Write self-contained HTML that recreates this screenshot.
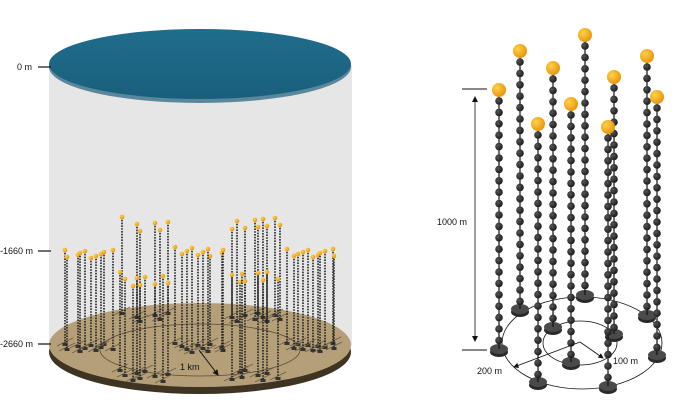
<!DOCTYPE html>
<html><head><meta charset="utf-8"><style>
html,body{margin:0;padding:0;background:#fff;}
svg{display:block;font-family:"Liberation Sans",sans-serif;}
</style></head><body>
<svg id="s" width="700" height="420" viewBox="0 0 700 420" xmlns="http://www.w3.org/2000/svg">
<defs>
<radialGradient id="og" cx="0.35" cy="0.35" r="0.7"><stop offset="0" stop-color="#ffd24a"/><stop offset="1" stop-color="#e8930a"/></radialGradient>
<radialGradient id="bg" cx="0.35" cy="0.35" r="0.7"><stop offset="0" stop-color="#555"/><stop offset="1" stop-color="#1a1a1a"/></radialGradient>
<linearGradient id="wg" x1="0" y1="0" x2="0" y2="1"><stop offset="0" stop-color="#1f6d8c"/><stop offset="1" stop-color="#195f7d"/></linearGradient>
<marker id="ar" markerWidth="6" markerHeight="6" refX="5" refY="3" orient="auto"><path d="M0,0 L6,3 L0,6 z" fill="#111"/></marker>
</defs>
<!-- left cylinder -->
<rect x="49" y="65" width="303" height="280" fill="#e6e6e7"/>
<ellipse cx="200" cy="352" rx="151" ry="42" fill="#3f3322"/>
<ellipse cx="200" cy="345" rx="151" ry="42" fill="#b49f78"/>
<ellipse cx="200" cy="350" rx="100" ry="26" fill="none" stroke="#5a4a32" stroke-width="0.8"/>
<ellipse cx="200" cy="67" rx="151" ry="36" fill="#5b879b"/>
<ellipse cx="200" cy="64" rx="151" ry="35" fill="url(#wg)"/>
<g id="left"></g>
<line x1="199" y1="350" x2="218" y2="375" stroke="#111" stroke-width="1" marker-end="url(#ar)"/>
<text x="180" y="370" font-size="9" fill="#111">1 km</text>
<g font-size="9" fill="#111">
<text x="17" y="70">0 m</text><line x1="38" y1="67" x2="51" y2="67" stroke="#111" stroke-width="1.2"/>
<text x="0" y="254">-1660 m</text><line x1="38" y1="251" x2="51" y2="251" stroke="#111" stroke-width="1.2"/>
<text x="0" y="347">-2660 m</text><line x1="38" y1="344" x2="51" y2="344" stroke="#111" stroke-width="1.2"/>
</g>
<!-- right -->
<ellipse cx="582" cy="343" rx="80" ry="46" fill="none" stroke="#111" stroke-width="0.8"/>
<ellipse cx="580" cy="343" rx="37" ry="22" fill="none" stroke="#111" stroke-width="0.8"/>
<g id="right"></g>
<line x1="580" y1="342" x2="514" y2="367" stroke="#111" stroke-width="0.9" marker-end="url(#ar)"/>
<line x1="580" y1="342" x2="603" y2="358" stroke="#111" stroke-width="0.9" marker-end="url(#ar)"/>
<g font-size="9" fill="#111">
<text x="477" y="374">200 m</text><text x="613" y="364">100 m</text><text x="437" y="225">1000 m</text>
</g>
<line x1="462" y1="89" x2="487" y2="89" stroke="#111" stroke-width="1"/>
<line x1="462" y1="350" x2="487" y2="350" stroke="#111" stroke-width="1"/>
<line x1="475" y1="98" x2="475" y2="340" stroke="#111" stroke-width="0.8"/>
<path d="M472,102 L475,96 L478,102z M472,336 L475,342 L478,336z" fill="#111"/>
</svg>
<script>
var NS="http://www.w3.org/2000/svg";
function el(p,t,a){var e=document.createElementNS(NS,t);for(var k in a)e.setAttribute(k,a[k]);p.appendChild(e);return e;}
var L=document.getElementById("left");
var S=[];
[65,67,78,80,85,91,96,101,104,113].forEach(function(x,i){S.push([x,250+(i*7)%9,344+(i*5)%8]);});
[287,294,298,303,308,313,318,320,325,333,334].forEach(function(x,i){S.push([x,249+(i*7)%9,343+(i*5)%9]);});
[175,182,187,192,198,203,208,210,222,223].forEach(function(x,i){S.push([x,247+(i*7)%10,343+(i*3)%10]);});
[122,137,140,155,160,168,232,237,245,255,258,263,267,275,280].forEach(function(x,i){S.push([x,217+(i*7)%15,313+(i*4)%10]);});
[120,125,133,137,140,145,155,163,168,232,240,242,245,258,263,267,278].forEach(function(x,i){S.push([x,272+(i*7)%15,370+(i*5)%12]);});
S.sort(function(a,b){return a[2]-b[2];});
S.forEach(function(s){
 el(L,"line",{x1:s[0]-8,y1:s[2]+2,x2:s[0]+8,y2:s[2]-6,stroke:"#6e5c40","stroke-width":0.7});
 el(L,"line",{x1:s[0],y1:s[1],x2:s[0],y2:s[2],stroke:"#222","stroke-width":1.6,"stroke-dasharray":"1.6 1.2"});
 el(L,"rect",{x:s[0]-2.5,y:s[2]-1,width:5,height:3,fill:"#333"});
 el(L,"circle",{cx:s[0],cy:s[1],r:2.3,fill:"url(#og)"});
});
var R=document.getElementById("right");
var T=[[520,51,309],[585,35,295],[647,56,315],[553,68,327],[614,77,334],[499,90,349],[571,104,362],[657,97,355],[538,124,382],[608,127,386]];
T.forEach(function(s){
 var x=s[0];
 el(R,"ellipse",{cx:x,cy:s[2]+3,rx:9,ry:5,fill:"#2a2a2a"});
 el(R,"ellipse",{cx:x,cy:s[2],rx:9,ry:5,fill:"#4a4a4a"});
 el(R,"line",{x1:x,y1:s[1],x2:x,y2:s[2],stroke:"#111","stroke-width":1.2});
 for(var y=s[1]+11;y<s[2]-4;y+=11.4){el(R,"circle",{cx:x,cy:y,r:3.8,fill:"url(#bg)"});}
 el(R,"circle",{cx:x,cy:s[1],r:7,fill:"url(#og)"});
});
</script>
</body></html>
